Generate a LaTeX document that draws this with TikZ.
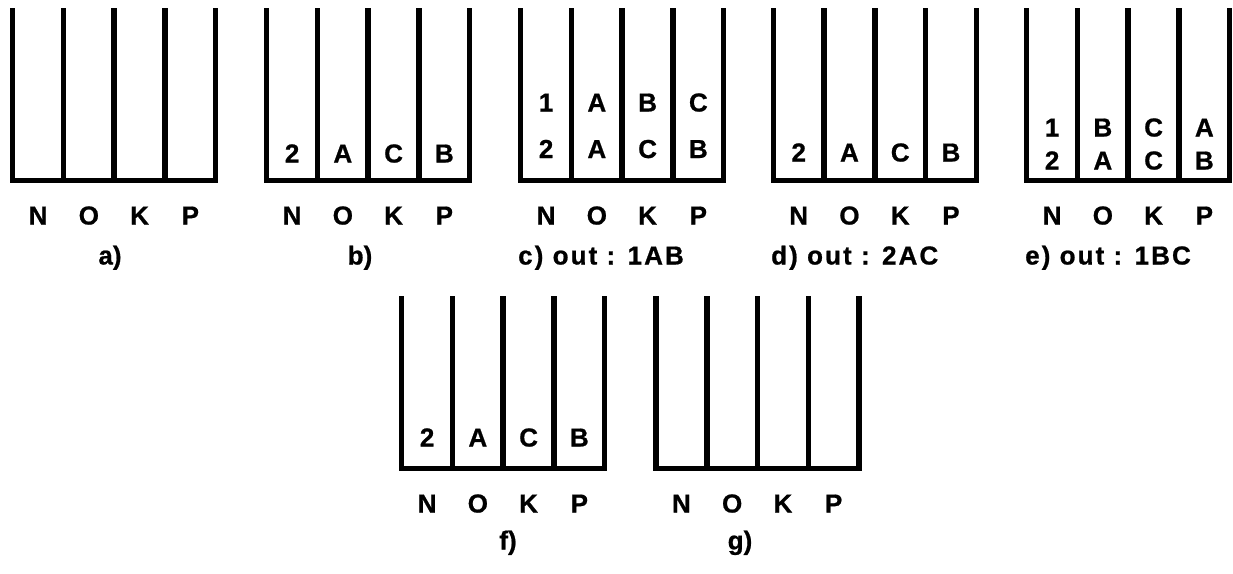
\documentclass[tikz,border=0pt]{standalone}
\usepackage{fontspec}
\setmainfont{Liberation Sans}[BoldFeatures={FakeBold=0.8}]
\newfontfamily\ttlfont{Liberation Sans}[LetterSpace=8,BoldFeatures={FakeBold=0.8}]
\tikzset{
  wall/.style={line width=5.5pt, line join=miter, line cap=butt},
  lbl/.style={font=\bfseries\fontsize{26}{26}\selectfont, inner sep=0pt, anchor=base},
  ttl/.style={font=\ttlfont\bfseries\fontsize{26}{26}\selectfont, inner sep=0pt, anchor=base west},
}
\newcommand\binbox[3]{%
  \begin{scope}[shift={(#2,#3)}]
    \coordinate (#1tl) at (0,0);
    \draw[wall] (0,0) -- (0,172.5) -- (203,172.5) -- (203,0);
    \foreach \i in {1,2,3} \draw[wall] (\i*50.75,0) -- (\i*50.75,172.5);
    \foreach \l [count=\j from 0] in {N,O,K,P}
      \node[lbl] (#1\l) at (25.4+\j*50.75,216.5) {\l};
  \end{scope}}
\newcommand\binitem[5]{% name, left, top, column, rel baseline
  \node[lbl] (#1) at ({#2+25.4+#4*50.75},{#3+#5}) }
\begin{document}
\begin{tikzpicture}[x=1pt,y=-1pt]
  \useasboundingbox (0,0) rectangle (1233,573);
  % top row
  \binbox{a}{12.7}{8}
  \binbox{b}{266.7}{8}
  \binbox{c}{520.7}{8}
  \binbox{d}{773.3}{8}
  \binbox{e}{1026.7}{8}
  % bottom row
  \binbox{f}{401.7}{296}
  \binbox{g}{656}{296}
  % contents b
  \binitem{b1}{266.7}{8}{0}{154.5}{2};
  \binitem{b2}{266.7}{8}{1}{154.5}{A};
  \binitem{b3}{266.7}{8}{2}{154.5}{C};
  \binitem{b4}{266.7}{8}{3}{154.5}{B};
  % contents c
  \binitem{c1}{520.7}{8}{0}{103.5}{1};
  \binitem{c2}{520.7}{8}{1}{103.5}{A};
  \binitem{c3}{520.7}{8}{2}{103.5}{B};
  \binitem{c4}{520.7}{8}{3}{103.5}{C};
  \binitem{c5}{520.7}{8}{0}{150}{2};
  \binitem{c6}{520.7}{8}{1}{150}{A};
  \binitem{c7}{520.7}{8}{2}{150}{C};
  \binitem{c8}{520.7}{8}{3}{150}{B};
  % contents d
  \binitem{d1}{773.3}{8}{0}{153.5}{2};
  \binitem{d2}{773.3}{8}{1}{153.5}{A};
  \binitem{d3}{773.3}{8}{2}{153.5}{C};
  \binitem{d4}{773.3}{8}{3}{153.5}{B};
  % contents e
  \binitem{e1}{1026.7}{8}{0}{128.5}{1};
  \binitem{e2}{1026.7}{8}{1}{128.5}{B};
  \binitem{e3}{1026.7}{8}{2}{128.5}{C};
  \binitem{e4}{1026.7}{8}{3}{128.5}{A};
  \binitem{e5}{1026.7}{8}{0}{161.5}{2};
  \binitem{e6}{1026.7}{8}{1}{161.5}{A};
  \binitem{e7}{1026.7}{8}{2}{161.5}{C};
  \binitem{e8}{1026.7}{8}{3}{161.5}{B};
  % contents f
  \binitem{f1}{401.7}{296}{0}{150.5}{2};
  \binitem{f2}{401.7}{296}{1}{150.5}{A};
  \binitem{f3}{401.7}{296}{2}{150.5}{C};
  \binitem{f4}{401.7}{296}{3}{150.5}{B};
  % titles
  \node[lbl] (ta) at (110,264.5) {a)};
  \node[lbl] (tb) at (360,264.5) {b)};
  \node[ttl] (tc) at (518,264.5) {c) out : 1AB};
  \node[ttl] (td) at (771,264.5) {d) out : 2AC};
  \node[ttl] (te) at (1025,264.5) {e) out : 1BC};
  \node[lbl] (tf) at (508,549.5) {f)};
  \node[lbl] (tg) at (740,549.5) {g)};
\end{tikzpicture}
\end{document}
